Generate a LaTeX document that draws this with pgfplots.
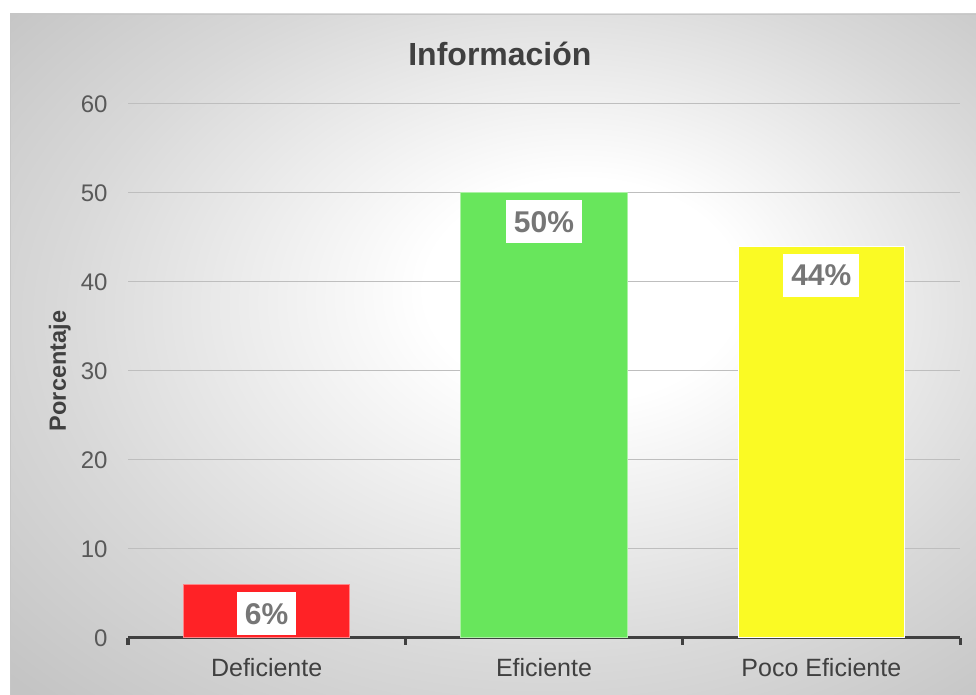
\documentclass[border=0pt]{standalone}
\usepackage{pgfplots}
\pgfplotsset{compat=1.18}
\usepackage{fontspec}
\setmainfont{Liberation Sans}
\definecolor{barred}{RGB}{255,34,38}
\definecolor{bargreen}{RGB}{104,230,92}
\definecolor{baryellow}{RGB}{250,250,36}
\definecolor{txtdark}{RGB}{64,64,64}
\definecolor{ticktxt}{RGB}{89,89,89}
\definecolor{lbltxt}{RGB}{118,118,118}
\definecolor{gridc}{RGB}{190,190,190}
\pgfdeclareradialshading{chartbg}{\pgfpoint{5bp}{6bp}}{color(0bp)=(white); color(8bp)=(white); color(25bp)=(gray!30); color(36bp)=(gray!46); color(50bp)=(gray!46)}
\begin{document}
\begin{tikzpicture}
\useasboundingbox (0,0) rectangle (976bp,695bp);
\shade[shading=chartbg] (10bp,-10bp) rectangle (990bp,681bp);
\draw[gray!45, line width=1bp] (10.5bp,-10bp) -- (10.5bp,680.5bp) -- (990bp,680.5bp);
\begin{axis}[
  at={(128bp,57bp)}, anchor=south west,
  scale only axis, width=832bp, height=534bp,
  xmin=-0.5, xmax=2.5, ymin=0, ymax=60,
  ybar, bar width=0.6, clip=false,
  xtick={0,1,2}, xticklabels={Deficiente,Eficiente,Poco Eficiente},
  minor xtick={-0.5,0.5,1.5,2.5},
  ytick={0,10,20,30,40,50,60},
  yticklabels={0,10,20,30,40,50,60},
  axis x line*=bottom, axis y line*=left,
  y axis line style={draw=none},
  x axis line style={line width=3bp, color=txtdark},
  tick align=outside,
  major tick length=0pt, minor tick length=7bp,
  minor tick style={line width=3bp, color=txtdark},
  ymajorgrids, major grid style={gridc, line width=1bp},
  xticklabel style={font=\fontsize{25bp}{29bp}\selectfont, text=txtdark, yshift=-17bp},
  yticklabel style={font=\fontsize{24bp}{28bp}\selectfont, text=ticktxt, xshift=-17bp},
  /pgf/number format/assume math mode=true,
  title={Información},
  title style={at={(axis description cs:0.447,1.083)}, anchor=center, font=\bfseries\fontsize{32bp}{38bp}\selectfont, text=txtdark},
  ylabel={Porcentaje},
  ylabel style={at={(axis description cs:-0.082,0.5)}, anchor=center, font=\bfseries\fontsize{23.5bp}{27bp}\selectfont, text=txtdark},
  nodes near coords={\pgfmathprintnumber{\pgfplotspointmeta}\%},
  every node near coord/.append style={anchor=north, yshift=-7bp, fill=white, text=lbltxt, font=\bfseries\fontsize{30bp}{34bp}\selectfont, inner xsep=8bp, inner ysep=10bp, text height=22bp, text depth=1bp},
]
\addplot[fill=barred, draw=barred!55!white, line width=1bp, bar shift=0pt] coordinates {(0,6)};
\addplot[fill=bargreen, draw=bargreen!55!white, line width=1bp, bar shift=0pt] coordinates {(1,50)};
\addplot[fill=baryellow, draw=white, line width=1bp, bar shift=0pt] coordinates {(2,44)};
\end{axis}
\end{tikzpicture}
\end{document}
